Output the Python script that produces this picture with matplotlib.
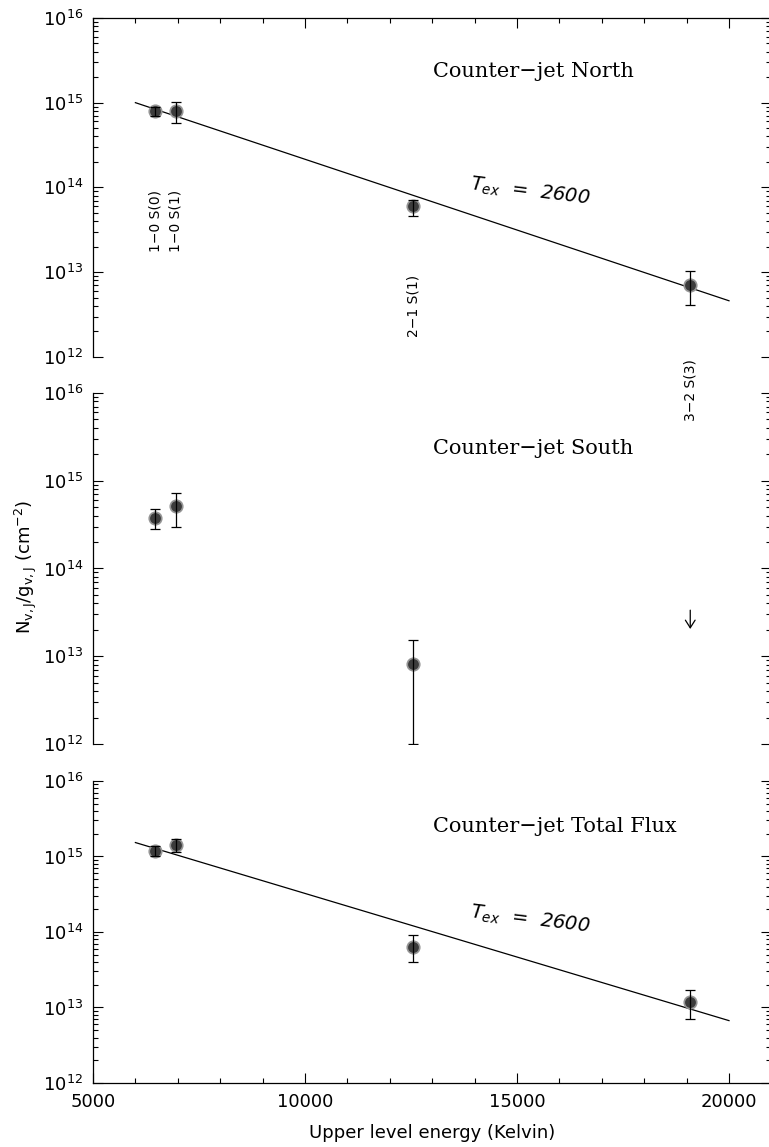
import matplotlib
matplotlib.use('Agg')
import matplotlib.pyplot as plt
from matplotlib.ticker import LogLocator, FuncFormatter, NullFormatter, MultipleLocator
import numpy as np

plt.rcParams['font.family'] = 'DejaVu Sans'
plt.rcParams['mathtext.fontset'] = 'dejavusans'

# upper level energies (K) and line names
energy = [6471, 6956, 12550, 19086]
lines = ['1\u22120 S(0)', '1\u22120 S(1)', '2\u22121 S(1)', '3\u22122 S(3)']

# Counter-jet North
north_N = [8.0e14, 8.0e14, 6.0e13, 7.0e12]
north_hi = [9.0e14, 1.02e15, 7.2e13, 1.03e13]
north_lo = [6.9e14, 5.8e14, 4.6e13, 4.1e12]

# Counter-jet South (3-2 S(3) only an upper limit)
south_N = [3.8e14, 5.2e14, 8.1e12]
south_hi = [4.8e14, 7.3e14, 1.52e13]
south_lo = [2.85e14, 3.0e14, 1.0e12]
south_lim_from = 3.6e13
south_lim_to = 1.9e13

# Counter-jet Total Flux
total_N = [1.2e15, 1.4e15, 6.4e13, 1.2e13]
total_hi = [1.36e15, 1.68e15, 9.0e13, 1.68e13]
total_lo = [1.0e15, 1.13e15, 3.95e13, 7.1e12]

# T_ex = 2600 K fits (end points)
fit_E = [6000, 20000]
north_fit = [1.0e15, 4.6e12]
total_fit = [1.53e15, 6.7e12]

fig = plt.figure(figsize=(7.69, 11.47), dpi=100)
left, width = 93 / 769, 678.4 / 769
ax1 = fig.add_axes([left, 0.6888, width, 0.2956])
ax2 = fig.add_axes([left, 0.3514, width, 0.3060])
ax3 = fig.add_axes([left, 0.0558, width, 0.2633])


def decade(v, pos):
    return r'$\mathregular{10^{%d}}$' % int(round(np.log10(v)))


for ax in (ax1, ax2, ax3):
    ax.patch.set_visible(False)
    ax.set_yscale('log')
    ax.set_ylim(1e12, 1e16)
    ax.set_xlim(5000, 21000)
    ax.yaxis.set_major_locator(LogLocator(base=10, numticks=10))
    ax.yaxis.set_minor_locator(LogLocator(base=10, subs=np.arange(2, 10), numticks=20))
    ax.yaxis.set_major_formatter(FuncFormatter(decade))
    ax.yaxis.set_minor_formatter(NullFormatter())
    ax.xaxis.set_major_locator(MultipleLocator(5000))
    ax.xaxis.set_minor_locator(MultipleLocator(1000))
    ax.tick_params(which='both', direction='in', left=True, right=True, width=0.8)
    ax.tick_params(which='major', length=7, labelsize=13, pad=7)
    ax.tick_params(which='minor', length=3.5)
    for s in ax.spines.values():
        s.set_linewidth(0.9)
    ax.spines['right'].set_visible(False)

ax1.spines['bottom'].set_visible(False)
ax1.tick_params(axis='x', which='both', top=True, bottom=False, labelbottom=False)
ax2.spines['top'].set_visible(False)
ax2.spines['bottom'].set_visible(False)
ax2.tick_params(axis='x', which='both', top=False, bottom=False, labelbottom=False)
ax3.spines['top'].set_visible(False)
ax3.tick_params(axis='x', which='both', top=False, bottom=True)

mk = dict(marker='o', ms=9, mfc='#3c3c3c', mec='#959595', mew=1.2, ls='none', zorder=3)
eb = dict(fmt='none', ecolor='black', elinewidth=0.9, capsize=3.5, capthick=0.9, zorder=4)


def points(ax, x, y, hi, lo):
    y = np.array(y)
    err = [y - np.array(lo), np.array(hi) - y]
    ax.plot(x, y, **mk)
    ax.errorbar(x, y, yerr=err, **eb)


points(ax1, energy, north_N, north_hi, north_lo)
ax1.plot(fit_E, north_fit, color='black', lw=0.9, zorder=2)
points(ax2, energy[:3], south_N, south_hi, south_lo)
ax2.annotate('', xy=(energy[3], south_lim_to), xytext=(energy[3], south_lim_from),
             arrowprops=dict(arrowstyle='->,head_length=0.55,head_width=0.35', lw=0.9, color='black'))
points(ax3, energy, total_N, total_hi, total_lo)
ax3.plot(fit_E, total_fit, color='black', lw=0.9, zorder=2)

tfont = dict(family='DejaVu Serif', fontsize=15, va='center', ha='left')
ax1.text(0.501, 0.841, 'Counter\u2212jet North', transform=ax1.transAxes, **tfont)
ax2.text(0.501, 0.843, 'Counter\u2212jet South', transform=ax2.transAxes, **tfont)
ax3.text(0.501, 0.848, 'Counter\u2212jet Total Flux', transform=ax3.transAxes, **tfont)

tex_label = r'$T_{ex}$  =  2600'
ax1.text(0.645, 0.487, tex_label, transform=ax1.transAxes, fontsize=14,
         style='italic', rotation=-7, ha='center', va='center')
ax3.text(0.645, 0.540, tex_label, transform=ax3.transAxes, fontsize=14,
         style='italic', rotation=-7, ha='center', va='center')

# line identifications
lab_y = [0.401, 0.401, 0.150, -0.097]
for e, name, yy in zip(energy, lines, lab_y):
    ax1.text(e, yy, name, transform=ax1.get_xaxis_transform(), rotation=90,
             ha='center', va='center', fontsize=10, clip_on=False, zorder=10)

fig.text(0.034, 0.506, r'$\mathregular{N_{v,J}/g_{v,J}}$ (cm$^{\mathregular{-2}}$)', rotation=90,
         ha='center', va='center', fontsize=13)
fig.text(0.5618, 0.0125, 'Upper level energy (Kelvin)', ha='center', va='center', fontsize=13)

fig.savefig('out.png', dpi=100)
